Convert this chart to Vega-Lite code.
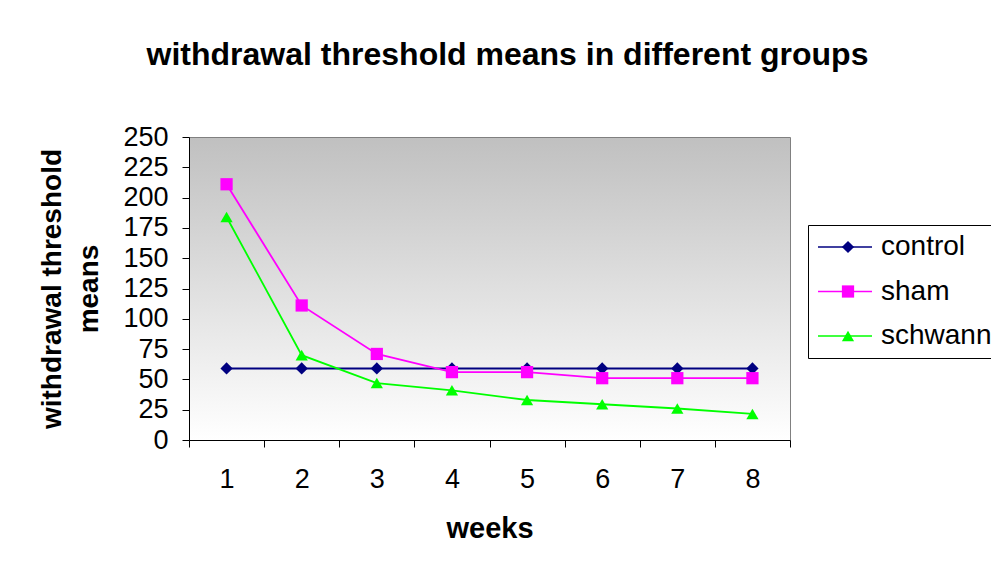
{
  "$schema": "https://vega.github.io/schema/vega-lite/v6.json",
  "width": 601,
  "height": 303,
  "autosize": "none",
  "padding": {"left": 189, "top": 137, "right": 201, "bottom": 125},
  "background": "white",
  "title": {
    "text": "withdrawal threshold means in different groups",
    "font": "Liberation Sans",
    "fontSize": 32,
    "fontWeight": "bold",
    "color": "black",
    "anchor": "middle",
    "frame": "group",
    "dx": 18,
    "baseline": "alphabetic",
    "offset": 26
  },
  "config": {
    "font": "Liberation Sans",
    "view": {
      "stroke": "#808080",
      "strokeWidth": 1,
      "fill": {
        "gradient": "linear",
        "x1": 0, "y1": 0, "x2": 0, "y2": 1,
        "stops": [
          {"offset": 0, "color": "#c0c0c0"},
          {"offset": 1, "color": "#ffffff"}
        ]
      }
    },
    "axis": {
      "domainColor": "black",
      "tickColor": "black",
      "labelColor": "black",
      "titleColor": "black",
      "labelFont": "Liberation Sans",
      "titleFont": "Liberation Sans",
      "grid": false
    }
  },
  "data": {
    "values": [
      {"week": 1, "group": "control", "value": 59},
      {"week": 2, "group": "control", "value": 59},
      {"week": 3, "group": "control", "value": 59},
      {"week": 4, "group": "control", "value": 59},
      {"week": 5, "group": "control", "value": 59},
      {"week": 6, "group": "control", "value": 59},
      {"week": 7, "group": "control", "value": 59},
      {"week": 8, "group": "control", "value": 59},
      {"week": 1, "group": "sham", "value": 211},
      {"week": 2, "group": "sham", "value": 111},
      {"week": 3, "group": "sham", "value": 71},
      {"week": 4, "group": "sham", "value": 56},
      {"week": 5, "group": "sham", "value": 56},
      {"week": 6, "group": "sham", "value": 51},
      {"week": 7, "group": "sham", "value": 51},
      {"week": 8, "group": "sham", "value": 51},
      {"week": 1, "group": "schwann", "value": 184},
      {"week": 2, "group": "schwann", "value": 70},
      {"week": 3, "group": "schwann", "value": 47},
      {"week": 4, "group": "schwann", "value": 41},
      {"week": 5, "group": "schwann", "value": 33},
      {"week": 6, "group": "schwann", "value": 29.5},
      {"week": 7, "group": "schwann", "value": 26},
      {"week": 8, "group": "schwann", "value": 21.5}
    ]
  },
  "encoding": {
    "x": {
      "field": "week",
      "type": "quantitative",
      "scale": {"domain": [0.5, 8.5], "nice": false, "zero": false},
      "axis": {
        "title": "weeks",
        "titleFontSize": 29,
        "titleFontWeight": "bold",
        "titlePadding": 22,
        "values": [0.5, 1, 1.5, 2, 2.5, 3, 3.5, 4, 4.5, 5, 5.5, 6, 6.5, 7, 7.5, 8, 8.5],
        "labelExpr": "datum.value % 1 === 0 ? toString(datum.value) : ''",
        "labelOverlap": false,
        "labelFontSize": 27,
        "labelPadding": 19,
        "tickSize": 7,
        "tickOpacity": {"condition": {"test": "datum.value % 1 === 0", "value": 0}, "value": 1},
        "domainWidth": 1
      }
    },
    "y": {
      "field": "value",
      "type": "quantitative",
      "scale": {"domain": [0, 250], "nice": false},
      "axis": {
        "title": ["withdrawal threshold", "means"],
        "titleFontSize": 28,
        "titleFontWeight": "bold",
        "titleLineHeight": 37,
        "titlePadding": 19,
        "values": [0, 25, 50, 75, 100, 125, 150, 175, 200, 225, 250],
        "labelFontSize": 27,
        "labelPadding": 14,
        "tickSize": 7,
        "labelOverlap": false
      }
    }
  },
  "layer": [
    {
      "mark": {"type": "line", "strokeWidth": 1.8},
      "encoding": {
        "color": {
          "field": "group",
          "type": "nominal",
          "scale": {"domain": ["control", "sham", "schwann"], "range": ["#000080", "#ff00ff", "#00ff00"]},
          "legend": {
            "title": null,
            "orient": "none",
            "legendX": 619,
            "legendY": 88,
            "padding": 8,
            "strokeColor": "black",
            "fillColor": null,
            "labelFontSize": 28,
            "labelFont": "Liberation Sans",
            "labelColor": "black",
            "symbolType": "M-3,0H3",
            "symbolSize": 324,
            "symbolStrokeWidth": 1.5,
            "symbolOffset": 15,
            "labelOffset": 22,
            "rowPadding": 16.5
          }
        }
      }
    },
    {
      "mark": {"type": "point", "filled": true, "size": 150, "opacity": 1},
      "encoding": {
        "fill": {
          "field": "group",
          "type": "nominal",
          "scale": {"domain": ["sham", "control", "schwann"], "range": ["#ff00ff", "#000080", "#00ff00"]},
          "legend": {
            "title": null,
            "orient": "none",
            "legendX": 619,
            "legendY": 88,
            "padding": 8,
            "values": ["control", "sham", "schwann"],
            "strokeColor": null,
            "fillColor": null,
            "labelFontSize": 28,
            "labelFont": "Liberation Sans",
            "labelOpacity": 0,
            "symbolSize": 150,
            "symbolStrokeWidth": 0,
            "symbolOpacity": 1,
            "symbolOffset": 18,
            "labelOffset": 22,
            "rowPadding": 16.5
          }
        },
        "shape": {
          "field": "group",
          "type": "nominal",
          "scale": {"domain": ["sham", "control", "schwann"], "range": ["square", "diamond", "triangle-up"]}
        }
      }
    }
  ]
}
